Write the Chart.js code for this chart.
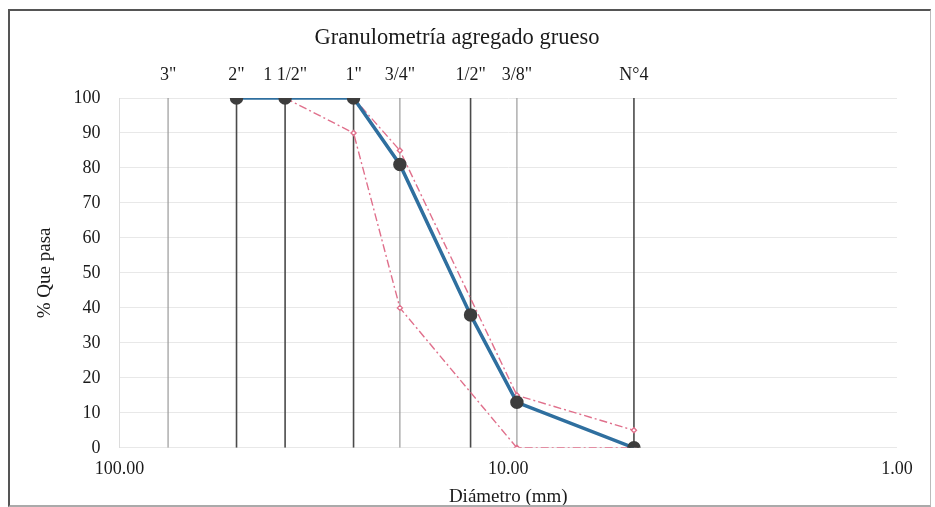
<!DOCTYPE html>
<html>
<head>
<meta charset="utf-8">
<script src="https://cdn.jsdelivr.net/npm/chart.js@4.4.0/dist/chart.umd.min.js"></script>
<style>
body { margin: 0; background: #fff; }
#frame {
	position: absolute; left: 8px; top: 9px; width: 920px; height: 494px;
	border-top: 2px solid #555; border-left: 2px solid #555;
	border-right: 1px solid #bbb; border-bottom: 2px solid #aaa;
}
</style>
</head>
<body>
<div id="frame"><canvas id="granChart" width="920" height="494"></canvas></div>
<script>
// tamices (mm) y nombres
const sieveLabels = ['3"', '2"', '1 1/2"', '1"', '3/4"', '1/2"', '3/8"', 'N°4'];
const sieveSizes = [75, 50, 37.5, 25, 19, 12.5, 9.5, 4.75];
const sieveDark = [false, true, true, true, false, true, false, true];
// % que pasa
const pasa = [null, 100, 100, 100, 81, 38, 13, 0];
const limSup = [null, null, 100, 100, 85, null, 15, 5];
const limInf = [null, null, 100, 90, 40, null, 0, 0];
const xTicks = [100, 10, 1];

Chart.defaults.font.family = '"Liberation Serif", "Times New Roman", serif';
Chart.defaults.color = '#1a1a1a';

function toPoints(vals) {
	const pts = [];
	for (let i = 0; i < sieveSizes.length; i++) {
		if (vals[i] !== null) pts.push({ x: sieveSizes[i], y: vals[i] });
	}
	return pts;
}

const datasets = [];
datasets.push({
	label: 'Muestra',
	data: toPoints(pasa),
	showLine: true,
	borderColor: '#2f6f9f',
	borderWidth: 3.5,
	pointRadius: 5,
	pointBackgroundColor: '#3d3d3d',
	pointBorderColor: '#3d3d3d',
	order: 0
});
datasets.push({
	label: 'Límite superior',
	data: toPoints(limSup),
	showLine: true,
	borderColor: '#e0708c',
	borderWidth: 1.4,
	borderDash: [8, 3, 2, 3],
	pointRadius: 2.5,
	pointStyle: 'rectRot',
	pointBackgroundColor: '#fff',
	pointBorderColor: '#e0708c',
	order: 1
});
datasets.push({
	label: 'Límite inferior',
	data: toPoints(limInf),
	showLine: true,
	borderColor: '#e0708c',
	borderWidth: 1.4,
	borderDash: [8, 3, 2, 3],
	pointRadius: 2.5,
	pointStyle: 'rectRot',
	pointBackgroundColor: '#fff',
	pointBorderColor: '#e0708c',
	order: 1
});
// lineas verticales de cada tamiz
for (let i = 0; i < sieveSizes.length; i++) {
	datasets.push({
		label: sieveLabels[i],
		data: [{ x: sieveSizes[i], y: 0 }, { x: sieveSizes[i], y: 100 }],
		showLine: true,
		borderColor: sieveDark[i] ? '#4a4a4a' : '#9a9a9a',
		borderWidth: sieveDark[i] ? 1.6 : 1.2,
		pointRadius: 0,
		order: 2
	});
}

new Chart(document.getElementById('granChart'), {
	type: 'scatter',
	data: { datasets: datasets },
	options: {
		responsive: false,
		animation: false,
		layout: { padding: { left: 7, right: 33, top: 0, bottom: 0 } },
		plugins: {
			legend: { display: false },
			tooltip: { enabled: false },
			title: {
				display: true,
				text: 'Granulometría agregado grueso',
				font: { size: 22.5, weight: 'normal' },
				color: '#1a1a1a',
				padding: { top: 13.5, bottom: 0.5 }
			}
		},
		scales: {
			x: {
				type: 'logarithmic',
				reverse: true,
				min: 1,
				max: 100,
				position: 'bottom',
				afterBuildTicks: function(axis) {
					axis.ticks = xTicks.map(v => ({ value: v }));
				},
				ticks: {
					autoSkip: false,
					maxRotation: 0,
					font: { size: 18 },
					padding: 10.2,
					callback: function(value) { return Number(value).toFixed(2); }
				},
				grid: { display: false, drawTicks: false },
				border: { display: false },
				title: {
					display: true,
					text: 'Diámetro (mm)',
					font: { size: 19, lineHeight: 0.8 },
					padding: { top: 0, bottom: 0 }
				}
			},
			x2: {
				type: 'logarithmic',
				reverse: true,
				min: 1,
				max: 100,
				position: 'top',
				afterBuildTicks: function(axis) {
					axis.ticks = sieveSizes.map(v => ({ value: v }));
				},
				ticks: {
					autoSkip: false,
					maxRotation: 0,
					font: { size: 18 },
					padding: 12.2,
					callback: function(value, index) { return sieveLabels[index]; }
				},
				grid: { display: false, drawTicks: false },
				border: { display: false }
			},
			y: {
				min: 0,
				max: 100,
				ticks: { stepSize: 10, font: { size: 18 }, padding: 19 },
				grid: { color: '#e8e8e8', drawTicks: false },
				border: { color: '#dcdcdc' },
				title: {
					display: true,
					text: '% Que pasa',
					font: { size: 19, lineHeight: 1 },
					padding: { top: 18.5, bottom: 0 }
				}
			}
		}
	}
});
</script>
</body>
</html>
